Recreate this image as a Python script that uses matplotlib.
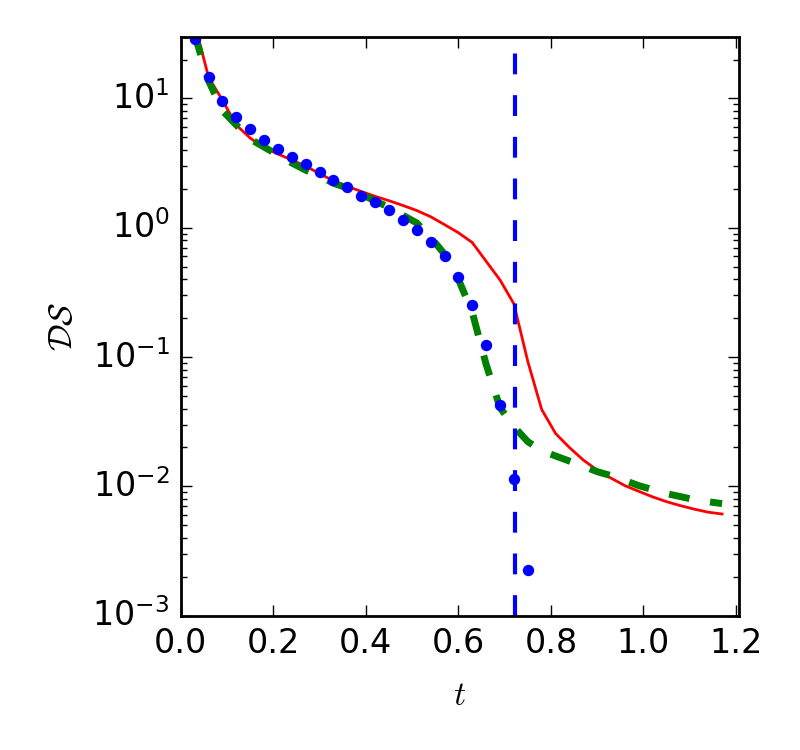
import numpy as np
import matplotlib
matplotlib.use("Agg")
import matplotlib.pyplot as plt

plt.style.use('classic')
plt.rcParams['figure.facecolor'] = 'white'
plt.rcParams['savefig.facecolor'] = 'white'
plt.rcParams['axes.unicode_minus'] = False

# puntos (simulacion)
t_pts = [0.03, 0.06, 0.09, 0.12, 0.15, 0.18, 0.21, 0.24, 0.27, 0.30,
         0.33, 0.36, 0.39, 0.42, 0.45, 0.48, 0.51, 0.54, 0.57, 0.60,
         0.63, 0.66, 0.69, 0.72, 0.75]
ds_pts = [28.9, 14.7, 9.56, 7.19, 5.81, 4.77, 4.10, 3.52, 3.11, 2.70,
          2.35, 2.07, 1.77, 1.57, 1.37, 1.15, 0.958, 0.778, 0.600, 0.420,
          0.255, 0.123, 0.043, 0.0115, 0.00227]

# curva roja
t_red = [0.03, 0.06, 0.09, 0.12, 0.15, 0.18, 0.21, 0.24, 0.27, 0.30,
         0.33, 0.36, 0.39, 0.42, 0.45, 0.48, 0.51, 0.54, 0.57, 0.60,
         0.63, 0.66, 0.69, 0.72, 0.75, 0.78, 0.81, 0.84, 0.87, 0.90,
         0.93, 0.96, 0.99, 1.02, 1.05, 1.08, 1.11, 1.14, 1.17]
ds_red = [38.0, 14.6, 9.7, 6.23, 4.94, 4.14, 3.72, 3.34, 3.0, 2.62,
          2.31, 2.09, 1.91, 1.75, 1.62, 1.488, 1.36, 1.218, 1.058, 0.916,
          0.769, 0.551, 0.395, 0.258, 0.0927, 0.0394, 0.0257, 0.0200, 0.0160, 0.01337,
          0.01159, 0.01014, 0.00916, 0.0083, 0.00762, 0.0071, 0.00667, 0.00632, 0.00612]

# curva verde (discontinua)
t_green = t_red
ds_green = [31.0, 13.7, 8.04, 6.23, 4.86, 4.21, 3.65, 3.17, 2.79, 2.51,
            2.21, 2.03, 1.82, 1.61, 1.44, 1.25, 1.09, 0.846, 0.625, 0.40,
            0.222, 0.0878, 0.0407, 0.029, 0.0222, 0.0189, 0.0172, 0.0157, 0.01436, 0.0130,
            0.01213, 0.0111, 0.01014, 0.00944, 0.0088, 0.00834, 0.0079, 0.00762, 0.00736]

t_blowup = 0.723

fig = plt.figure(figsize=(4, 3.75), dpi=200)
ax = fig.add_axes([0.226, 0.179, 0.698, 0.772])

ax.plot(t_red, ds_red, 'r-', lw=1.0)
ax.plot(t_green, ds_green, color='g', lw=2.5, ls='--', dashes=(7.5, 7.5))
ax.plot(t_pts, ds_pts, 'o', color='b', mec='b', ms=3.6)
ax.axvline(t_blowup, color='b', lw=1.5, ls='--', dashes=(7.5, 7.5))

ax.set_yscale('log')
ax.set_xlim(0, 1.207)
ax.set_ylim(1e-3, 30)
ax.set_xticks([0.0, 0.2, 0.4, 0.6, 0.8, 1.0, 1.2])
ax.set_xlabel(r'$t$', labelpad=7)
ax.set_ylabel(r'$\mathcal{DS}$')

fig.savefig('out.png', dpi=200)
